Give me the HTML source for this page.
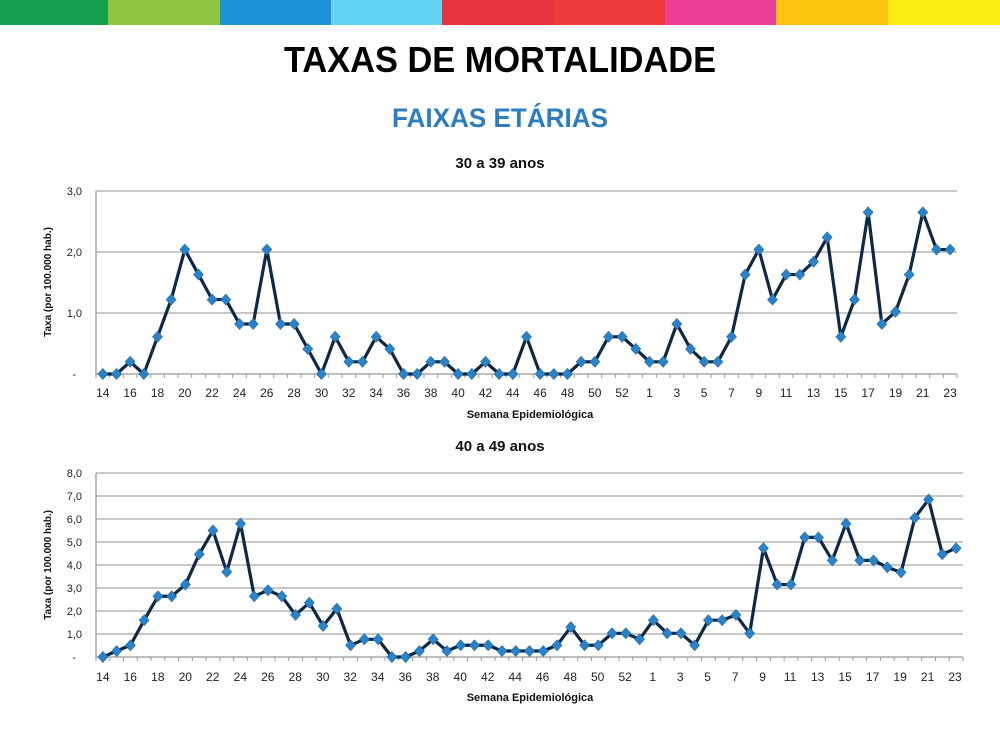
<!DOCTYPE html>
<html><head><meta charset="utf-8"><style>
body{margin:0;width:1000px;height:750px;background:#fff;overflow:hidden;font-family:"Liberation Sans",sans-serif}
.bar{position:absolute;top:0;height:25px}
</style></head><body>
<div class="bar" style="left:0;width:108px;background:#17a04e"></div>
<div class="bar" style="left:108px;width:112px;background:#8dc63f"></div>
<div class="bar" style="left:220px;width:111px;background:#1c93d8"></div>
<div class="bar" style="left:331px;width:111px;background:#62d3f3"></div>
<div class="bar" style="left:442px;width:111px;background:#e8333f"></div>
<div class="bar" style="left:553px;width:112px;background:#f03a3a"></div>
<div class="bar" style="left:665px;width:111px;background:#ec3d97"></div>
<div class="bar" style="left:776px;width:112px;background:#fdc412"></div>
<div class="bar" style="left:888px;width:112px;background:#fcec10"></div>
<svg width="1000" height="750" style="position:absolute;left:0;top:0" font-family="Liberation Sans, sans-serif">
<text x="500" y="72" text-anchor="middle" font-size="36" font-weight="bold" fill="#000" textLength="432" lengthAdjust="spacingAndGlyphs">TAXAS DE MORTALIDADE</text>
<text x="500" y="127" text-anchor="middle" font-size="27" font-weight="bold" fill="#2e7dc0" textLength="216" lengthAdjust="spacingAndGlyphs">FAIXAS ETÁRIAS</text>
<text x="500" y="168" text-anchor="middle" font-size="15" font-weight="bold" fill="#111">30 a 39 anos</text>
<text x="500" y="451" text-anchor="middle" font-size="15" font-weight="bold" fill="#111">40 a 49 anos</text>
<g id="g1"></g><g id="g2"></g>
<g font-size="11" fill="#222" text-anchor="end">
<text x="82" y="195">3,0</text><text x="82" y="256">2,0</text><text x="82" y="317">1,0</text><text x="76" y="378">-</text>
<text x="82" y="477">8,0</text><text x="82" y="500">7,0</text><text x="82" y="523">6,0</text><text x="82" y="546">5,0</text><text x="82" y="569">4,0</text><text x="82" y="592">3,0</text><text x="82" y="615">2,0</text><text x="82" y="638">1,0</text><text x="76" y="661">-</text>
</g>
<text transform="translate(51,282) rotate(-90)" text-anchor="middle" font-size="10" font-weight="bold" fill="#111">Taxa  (por 100.000 hab.)</text>
<text transform="translate(51,565) rotate(-90)" text-anchor="middle" font-size="10" font-weight="bold" fill="#111">Taxa  (por 100.000 hab.)</text>
<text x="530" y="418" text-anchor="middle" font-size="11" font-weight="bold" fill="#111">Semana Epidemiológica</text>
<text x="530" y="701" text-anchor="middle" font-size="11" font-weight="bold" fill="#111">Semana Epidemiológica</text>
<g id="lab1" font-size="12" fill="#222" text-anchor="middle" transform="translate(0,397)">
<text x="102.8">14</text><text x="130.1">16</text><text x="157.5">18</text><text x="184.8">20</text><text x="212.1">22</text><text x="239.5">24</text><text x="266.8">26</text><text x="294.1">28</text><text x="321.5">30</text><text x="348.8">32</text><text x="376.1">34</text><text x="403.5">36</text><text x="430.8">38</text><text x="458.1">40</text><text x="485.5">42</text><text x="512.8">44</text><text x="540.1">46</text><text x="567.5">48</text><text x="594.8">50</text><text x="622.1">52</text><text x="649.5">1</text><text x="676.8">3</text><text x="704.1">5</text><text x="731.5">7</text><text x="758.8">9</text><text x="786.1">11</text><text x="813.5">13</text><text x="840.8">15</text><text x="868.1">17</text><text x="895.5">19</text><text x="922.8">21</text><text x="950.1">23</text>
</g>
<g font-size="12" fill="#222" text-anchor="middle" transform="matrix(1.00581,0,0,1,-0.558,681)">
<text x="102.8">14</text><text x="130.1">16</text><text x="157.5">18</text><text x="184.8">20</text><text x="212.1">22</text><text x="239.5">24</text><text x="266.8">26</text><text x="294.1">28</text><text x="321.5">30</text><text x="348.8">32</text><text x="376.1">34</text><text x="403.5">36</text><text x="430.8">38</text><text x="458.1">40</text><text x="485.5">42</text><text x="512.8">44</text><text x="540.1">46</text><text x="567.5">48</text><text x="594.8">50</text><text x="622.1">52</text><text x="649.5">1</text><text x="676.8">3</text><text x="704.1">5</text><text x="731.5">7</text><text x="758.8">9</text><text x="786.1">11</text><text x="813.5">13</text><text x="840.8">15</text><text x="868.1">17</text><text x="895.5">19</text><text x="922.8">21</text><text x="950.1">23</text>
</g>
</svg>
<script>
var d1=[0,0,0.2,0,0.61,1.22,2.04,1.63,1.22,1.22,0.82,0.82,2.04,0.82,0.82,0.41,0,0.61,0.2,0.2,0.61,0.41,0,0,0.2,0.2,0,0,0.2,0,0,0.61,0,0,0,0.2,0.2,0.61,0.61,0.41,0.2,0.2,0.82,0.41,0.2,0.2,0.61,1.63,2.04,1.22,1.63,1.63,1.84,2.24,0.61,1.22,2.65,0.82,1.02,1.63,2.65,2.04,2.04];
var d2=[0,0.26,0.51,1.6,2.64,2.64,3.15,4.47,5.5,3.7,5.8,2.64,2.9,2.64,1.83,2.36,1.35,2.1,0.51,0.77,0.77,0,0,0.26,0.77,0.26,0.51,0.51,0.51,0.26,0.26,0.26,0.26,0.51,1.3,0.51,0.51,1.03,1.03,0.77,1.6,1.03,1.03,0.51,1.6,1.6,1.83,1.03,4.73,3.15,3.15,5.2,5.2,4.2,5.8,4.2,4.2,3.9,3.68,6.05,6.85,4.47,4.73];
function draw(id,d,x0,x1,yTop,y0,max,step){
 var g=document.getElementById(id),s='',n=d.length,w=(x1-x0)/n;
 for(var v=step;v<=max+1e-9;v+=step){var y=y0-(y0-yTop)*v/max;s+='<line x1="'+x0+'" x2="'+x1+'" y1="'+y+'" y2="'+y+'" stroke="#a8a8a8" stroke-width="1.3"/>';}
 s+='<line x1="'+x0+'" x2="'+x1+'" y1="'+y0+'" y2="'+y0+'" stroke="#999" stroke-width="1.3"/>';
 s+='<line x1="'+x0+'" x2="'+x0+'" y1="'+yTop+'" y2="'+y0+'" stroke="#999" stroke-width="1.3"/>';
 for(var i=0;i<=n;i++){var x=x0+i*w;s+='<line x1="'+x+'" x2="'+x+'" y1="'+y0+'" y2="'+(y0+4)+'" stroke="#999"/>';}
 var pts=d.map(function(v,i){return [x0+w*(i+0.5),y0-(y0-yTop)*v/max];});
 s+='<polyline fill="none" stroke="#0e2845" stroke-width="3.2" stroke-linejoin="round" points="'+pts.map(function(p){return p.join(',')}).join(' ')+'"/>';
 pts.forEach(function(p){s+='<path d="M'+p[0]+','+(p[1]-5.5)+' l5,5.5 l-5,5.5 l-5,-5.5z" fill="#2b82c6" stroke="#1f6aa8" stroke-width="0.6"/>';});
 g.innerHTML=s;
}
draw('g1',d1,96,957,191,374,3,1);
draw('g2',d2,96,963,473,657,8,1);
</script>
</body></html>
